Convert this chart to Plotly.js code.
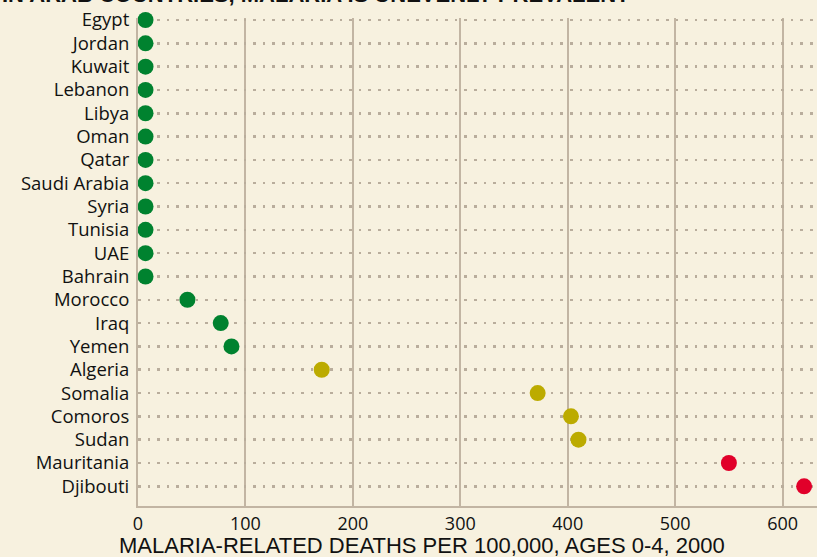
<!DOCTYPE html>
<html>
<head>
<meta charset="utf-8">
<script src="https://cdn.plot.ly/plotly-3.0.1.min.js"></script>
<style>
html,body{margin:0;padding:0;background:#f7f1df;}
#chart{width:817px;height:557px;}
</style>
</head>
<body>
<div id="chart"></div>
<script>
var countries = ["Egypt","Jordan","Kuwait","Lebanon","Libya","Oman","Qatar","Saudi Arabia","Syria","Tunisia","UAE","Bahrain","Morocco","Iraq","Yemen","Algeria","Somalia","Comoros","Sudan","Mauritania","Djibouti"];
var deaths = [7,7,7,7,7,7,7,7,7,7,7,7,46,77,87,171,372,403,410,550,620];
var dotColors = ["#00822f","#00822f","#00822f","#00822f","#00822f","#00822f","#00822f","#00822f","#00822f","#00822f","#00822f","#00822f","#00822f","#00822f","#00822f","#bcab00","#bcab00","#bcab00","#bcab00","#e1002a","#e1002a"];
var xTicks = [0,100,200,300,400,500,600];
var xTitle = "MALARIA-RELATED DEATHS PER 100,000, AGES 0-4, 2000";
var headline = "IN ARAB COUNTRIES, MALARIA IS UNEVENLY PREVALENT";

var trace = {
  type: "scatter",
  mode: "markers",
  x: deaths,
  y: countries,
  cliponaxis: false,
  hoverinfo: "x+y",
  marker: {size: 16, color: dotColors, line: {width: 0}}
};

var gridC = "#c2b5a3";
var layout = {
  width: 817, height: 557,
  paper_bgcolor: "#f7f1df",
  plot_bgcolor: "#f7f1df",
  margin: {l: 138, r: 0, t: 18, b: 51, pad: 0},
  showlegend: false,
  font: {family: "Open Sans, sans-serif", color: "#111"},
  xaxis: {
    range: [0, 632],
    tickvals: xTicks,
    ticktext: xTicks.map(String),
    showgrid: true, gridcolor: gridC, gridwidth: 2,
    zeroline: false,
    showline: true, linecolor: gridC, linewidth: 2,
    ticks: "", ticklabelstandoff: 0,
    tickfont: {family: "Open Sans, sans-serif", size: 18, color: "#111"},
    fixedrange: true
  },
  yaxis: {
    type: "category",
    categoryorder: "array",
    categoryarray: countries,
    range: [20.845, -0.086],
    showgrid: true, gridcolor: "#b9ad9c", gridwidth: 2.5, griddash: "2.5px,7.1px",
    zeroline: false,
    showline: true, linecolor: gridC, linewidth: 2,
    ticks: "", ticklabelstandoff: 3,
    tickfont: {family: "Open Sans, sans-serif", size: 18.5, color: "#111"},
    fixedrange: true
  },
  annotations: [
    {
      text: xTitle, showarrow: false,
      xref: "paper", yref: "paper",
      x: (421.5 - 138) / 679, y: -(545 - 505.7) / 487.7,
      xanchor: "center", yanchor: "middle",
      font: {family: "Liberation Sans, Arial, sans-serif", size: 22, color: "#111"}
    },
    {
      text: "<b>" + headline + "</b>", showarrow: false,
      xref: "paper", yref: "paper",
      x: -138 / 679, y: 1 + (18 - 9) / 487.7,
      xanchor: "left", yanchor: "bottom",
      font: {family: "Liberation Sans, Arial, sans-serif", size: 22, color: "#111"}
    }
  ]
};

Plotly.newPlot("chart", [trace], layout, {displayModeBar: false, staticPlot: true});
</script>
</body>
</html>
